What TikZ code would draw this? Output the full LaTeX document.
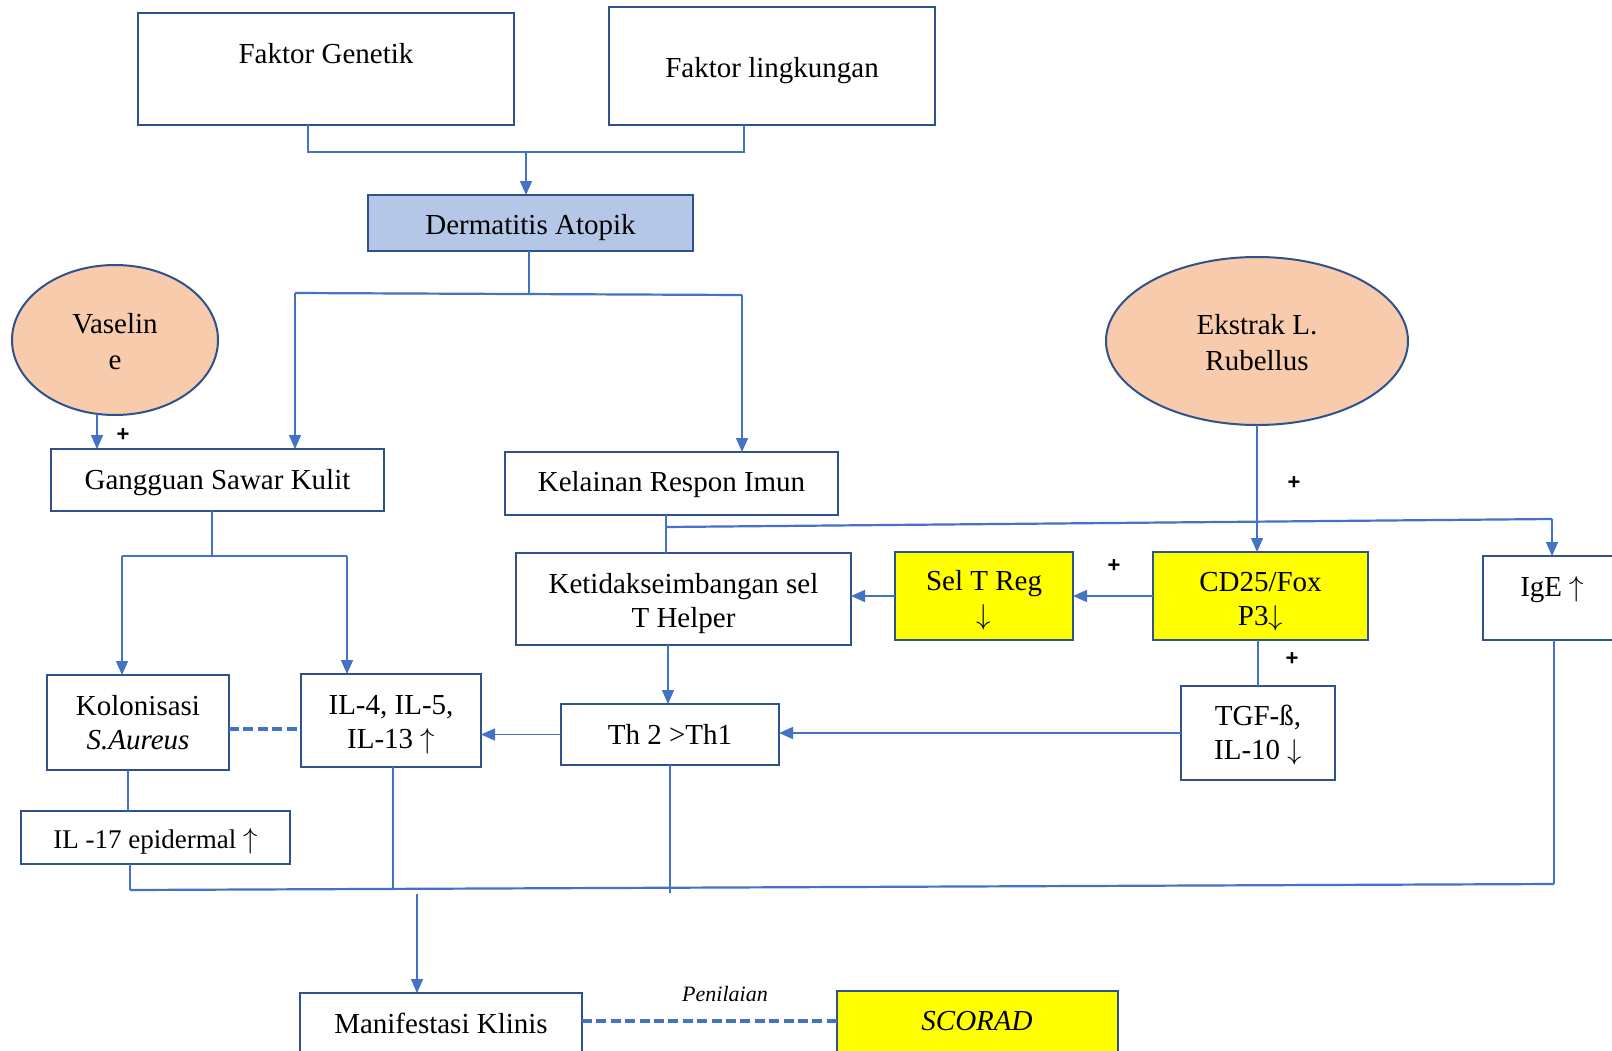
\documentclass[tikz,border=0pt]{standalone}
\usepackage{fontspec}
\setmainfont{Liberation Serif}
\newfontfamily\plusfont{Liberation Sans}
\usetikzlibrary{arrows.meta,shapes.geometric}
\definecolor{bordc}{HTML}{2F528F}
\definecolor{linec}{HTML}{4472C4}
\definecolor{dablue}{HTML}{B4C7E7}
\definecolor{peach}{HTML}{F8CBAD}
\definecolor{yel}{HTML}{FFFF00}
\newcommand\lo[2][2pt]{\raisebox{-#1}[\height][\depth]{\begin{tabular}{@{}c@{}}#2\end{tabular}}}
\newcommand\upa{$\uparrow$}
\newcommand\dna{$\downarrow$}
\begin{document}
\begin{tikzpicture}[x=0.5pt,y=-0.5pt,
 box/.style={draw=bordc,line width=1.1pt,rectangle,inner sep=0pt,outer sep=0pt,align=center,font=\fontsize{14.5}{17}\selectfont},
 oval/.style={draw=bordc,line width=1pt,ellipse,fill=peach,inner sep=0pt,outer sep=0pt,align=center,font=\fontsize{14.5}{18}\selectfont},
 txt/.style={inner sep=0pt,align=center,font=\fontsize{14.5}{17}\selectfont},
 ln/.style={draw=linec,line width=0.7pt},
 jn/.style={draw=linec,line width=1.1pt},
 arr/.style={draw=linec,line width=0.7pt,-{Triangle[length=7pt,width=6pt]}},
 dsh/.style={draw=linec,line width=2pt,dash pattern=on 5pt off 2.2pt},
 plus/.style={inner sep=0pt,font=\plusfont\bfseries\fontsize{11}{13}\selectfont}]
\useasboundingbox (0,0) rectangle (1612,1050);
\clip (0,0) rectangle (1612,1050);
\fill[white] (0,0) rectangle (1612,1050);

% boxes
\node[box,minimum width=188pt,minimum height=56pt] (gen) at (326,69) {};
\node[txt] (gent) at (326,54) {Faktor Genetik};
\node[box,minimum width=163pt,minimum height=59pt] (env) at (772,66) {\lo[2.5pt]{Faktor lingkungan}};
\node[box,fill=dablue,minimum width=162.5pt,minimum height=28pt] (da) at (530.5,223) {\lo[2.5pt]{Dermatitis Atopik}};
\node[oval,minimum width=103pt,minimum height=75pt] (vas) at (115,340) {\lo[2pt]{Vaselin\\e}};
\node[oval,minimum width=151pt,minimum height=84pt] (ekst) at (1257,341) {\lo[2pt]{Ekstrak L.\\Rubellus}};
\node[box,minimum width=166.5pt,minimum height=31pt] (gsk) at (217.5,480) {\lo[1.5pt]{Gangguan Sawar Kulit}};
\node[box,minimum width=166.5pt,minimum height=31.5pt] (kri) at (671.5,483.5) {\lo[0.5pt]{Kelainan Respon Imun}};
\node[box,minimum width=167.5pt,minimum height=46pt] (ket) at (683.5,599) {\lo[2.5pt]{Ketidakseimbangan sel\\T Helper}};
\node[box,fill=yel,minimum width=89pt,minimum height=44pt] (str) at (984,596) {\lo[2.5pt]{Sel T Reg\\\dna}};
\node[box,fill=yel,minimum width=107.5pt,minimum height=44pt] (cd) at (1260.5,596) {\lo[3pt]{CD25/Fox\\P3\dna}};
\node[box,minimum width=73.5pt,minimum height=42pt] (ige) at (1556.5,598) {};
\node[txt] (iget) at (1552,590) {IgE \upa};
\node[box,minimum width=91pt,minimum height=47.5pt] (kol) at (138,722.5) {\lo[1.5pt]{Kolonisasi\\\textit{S.Aureus}}};
\node[box,minimum width=90pt,minimum height=46.5pt] (il4) at (391,720.5) {\lo[2pt]{IL-4, IL-5,\\IL-13 \upa}};
\node[box,minimum width=109pt,minimum height=30.5pt] (th) at (670,734.5) {\lo[1.5pt]{Th 2 >Th1}};
\node[box,minimum width=77pt,minimum height=47pt] (tgf) at (1258,733) {\lo[1.5pt]{TGF-ß,\\IL-10 \dna}};
\node[box,minimum width=134.5pt,minimum height=26.5pt,font=\fontsize{13.5}{16}\selectfont] (il17) at (155.5,837.5) {\lo[2.5pt]{IL -17 epidermal \upa}};
\node[box,minimum width=141pt,minimum height=38.5pt] (man) at (441,1031.5) {};
\node[txt] (mant) at (441,1023) {Manifestasi Klinis};
\node[box,fill=yel,minimum width=140.5pt,minimum height=39.5pt] (sco) at (977.5,1030.5) {};
\node[txt] (scot) at (977,1021) {\textit{SCORAD}};

% plus signs and label
\node[plus] (p1) at (123,435) {+};
\node[plus] (p2) at (1294,483) {+};
\node[plus] (p3) at (1114,566) {+};
\node[plus] (p4) at (1292,659) {+};
\node[inner sep=0pt,font=\fontsize{11}{13}\selectfont\itshape] (pen) at (725,994) {Penilaian};

% top junction
\coordinate (j1l) at (308,152);
\coordinate (j1r) at (744,152);
\coordinate (j1m) at (526,152);
\draw[jn] (gen.south -| j1l) -- (j1l) -- (j1r) -- (env.south -| j1r);
\draw[arr] (j1m) -- (da.north -| j1m);

% dermatitis junction
\coordinate (j2m) at (529,293);
\coordinate (j2l) at (295,293);
\coordinate (j2r) at (742,295);
\draw[jn] (da.south -| j2m) -- (j2m);
\draw[jn] (j2l) -- (j2r);
\draw[arr] (j2l) -- (gsk.north -| j2l);
\draw[arr] (j2r) -- (kri.north -| j2r);

% vaseline
\coordinate (va) at (97,414);
\draw[arr] (va) -- (gsk.north -| va);

% gangguan junction
\coordinate (j3m) at (212,556);
\coordinate (j3l) at (122,556);
\coordinate (j3r) at (347,556);
\draw[ln] (gsk.south -| j3m) -- (j3m);
\draw[jn] (j3l) -- (j3r);
\draw[arr] (j3l) -- (kol.north -| j3l);
\draw[arr] (j3r) -- (il4.north -| j3r);

% dashed kol - il4
\coordinate (dk) at (229,729);
\draw[dsh] (dk) -- (il4.west |- dk);

% kol -> il17
\coordinate (xk) at (128,0);
\draw[ln] (kol.south -| xk) -- (il17.north -| xk);

% bottom collector
\coordinate (bl) at (130,890);
\coordinate (br) at (1554,884);
\draw[jn] (bl) -- (br);
\draw[ln] (il17.south -| bl) -- (bl);
\coordinate (x4) at (393,888);
\draw[ln] (il4.south -| x4) -- (x4);
\coordinate (xt) at (670,893);
\draw[ln] (th.south -| xt) -- (xt);
\draw[ln] (ige.south -| br) -- (br);
\coordinate (xm) at (417,894);
\draw[arr] (xm) -- (man.north -| xm);

% manifestasi - scorad
\coordinate (dm) at (582,1021);
\draw[dsh] (dm) -- (sco.west |- dm);

% kelainan -> ket, ige
\coordinate (xkr) at (666,527);
\coordinate (xig) at (1552,519);
\draw[ln] (kri.south -| xkr) -- (ket.north -| xkr);
\draw[jn] (xkr) -- (xig);
\draw[arr] (xig) -- (ige.north -| xig);

% ekstrak -> cd
\draw[arr] (ekst.south) -- (ekst.south |- cd.north);
\draw[arr] (cd.west) -- (str.east);
\draw[arr] (str.west) -- (ket.east |- str.west);
\draw[ln] (cd.south -| tgf.north) -- (tgf.north);
\draw[arr] (tgf.west) -- (th.east |- tgf.west);
\coordinate (xkt) at (668,0);
\draw[arr] (ket.south -| xkt) -- (th.north -| xkt);
\draw[arr] (th.west) -- (il4.east |- th.west);
\end{tikzpicture}
\end{document}
